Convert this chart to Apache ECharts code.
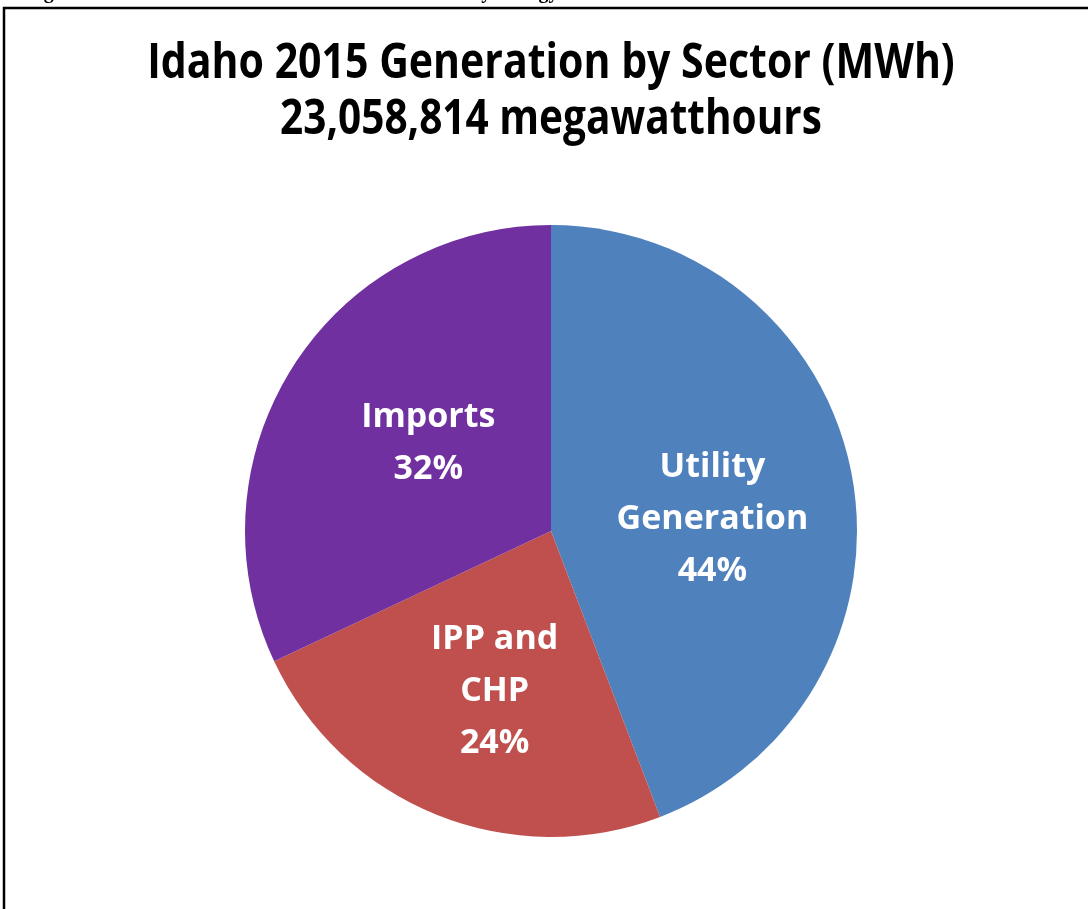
<!DOCTYPE html>
<html>
<head>
<meta charset="utf-8">
<script src="https://cdn.jsdelivr.net/npm/echarts@6/dist/echarts.min.js"></script>
<style>
html,body{margin:0;padding:0;background:#fff;}
#chart{width:1088px;height:909px;}
</style>
</head>
<body>
<div id="chart"></div>
<script>
const categories = ['Utility\nGeneration', 'IPP and\nCHP', 'Imports'];
const values = [10192000, 5488000, 7379000];
const percentLabels = ['44%', '24%', '32%'];
const colors = ['#4F81BD', '#C0504D', '#7030A0'];
const titleLines = ['Idaho 2015 Generation by Sector (MWh)', '23,058,814 megawatthours'];
const captionText = "Figure 1.  Idaho's 2015 Electric Generation Sources by Energy Sources";

const labelShift = [[8, 17], [2, 16], [9, -4]];

const chart = echarts.init(document.getElementById('chart'));
const font = "'Open Sans', 'Noto Sans', sans-serif";

chart.setOption({
  animation: false,
  backgroundColor: '#ffffff',
  graphic: [
    {
      type: 'text', left: 26, top: -17, silent: true,
      style: { text: captionText, font: "bold 20px 'Liberation Serif', serif", fill: '#000' }
    },
    {
      type: 'rect', silent: true,
      shape: { x: 4, y: 8, width: 1200, height: 1000 },
      style: { fill: 'none', stroke: '#000', lineWidth: 2.5 }
    },
    {
      type: 'text', x: 551, y: 64, silent: true, scaleX: 0.855,
      style: { text: titleLines[0], font: "bold 48px " + font, fill: '#000', align: 'center', verticalAlign: 'middle' }
    },
    {
      type: 'text', x: 551, y: 120, silent: true, scaleX: 0.845,
      style: { text: titleLines[1], font: "bold 48px " + font, fill: '#000', align: 'center', verticalAlign: 'middle' }
    }
  ],
  series: [{
    type: 'pie',
    center: [551, 531],
    radius: [0, 306],
    startAngle: 90,
    clockwise: true,
    silent: true,
    itemStyle: { borderWidth: 0 },
    label: {
      show: true,
      position: 'inside',
      color: '#fff',
      fontFamily: font,
      fontWeight: 'bold',
      fontSize: 34,
      lineHeight: 52,
      formatter: (p) => p.name + '\n' + percentLabels[p.dataIndex]
    },
    labelLayout: (p) => ({ dx: labelShift[p.dataIndex][0], dy: labelShift[p.dataIndex][1] }),
    labelLine: { show: false },
    data: categories.map((c, i) => ({ name: c, value: values[i], itemStyle: { color: colors[i] } }))
  }]
});
</script>
</body>
</html>
